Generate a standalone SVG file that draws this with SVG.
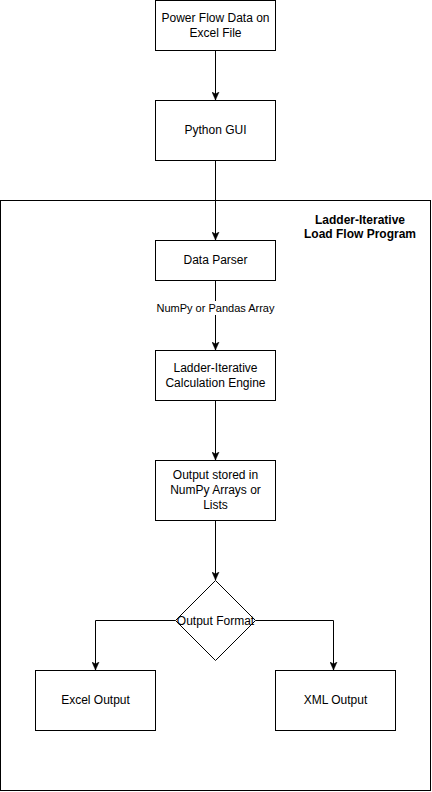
<svg xmlns="http://www.w3.org/2000/svg" width="432" height="792" viewBox="0 0 432 792">
<defs>
<style>
.box{fill:#fff;stroke:#000;stroke-width:1}
.t{font-family:"Liberation Sans",Arial,sans-serif;font-size:12px;fill:#000;text-anchor:middle}
.b{font-weight:bold}
.lbl{font-family:"Liberation Sans",Arial,sans-serif;font-size:11px;fill:#000;text-anchor:middle}
.e{fill:none;stroke:#000;stroke-width:1}
</style>
<marker id="ah" markerWidth="8" markerHeight="8" viewBox="0 0 8 8" refX="8" refY="4" orient="auto" markerUnits="userSpaceOnUse">
<path d="M0,0.5 L8,4 L0,7.5 L2,4 Z" fill="#000" stroke="#000" stroke-width="0.5"/>
</marker>
</defs>
<rect width="432" height="792" fill="#fff"/>
<g id="container">
<rect class="box" x="0.5" y="200.5" width="430" height="590"/>
<text class="t b" x="360" y="224">Ladder-Iterative</text>
<text class="t b" x="360" y="238">Load Flow Program</text>
</g>
<g id="edges">
<path class="e" d="M215.5,50.5 V100" marker-end="url(#ah)"/>
<path class="e" d="M215.5,160.5 V240" marker-end="url(#ah)"/>
<path class="e" d="M215.5,280.5 V350" marker-end="url(#ah)"/>
<rect x="152" y="301" width="127" height="14" fill="#fff"/>
<text class="lbl" x="215.5" y="312">NumPy or Pandas Array</text>
<path class="e" d="M215.5,400.5 V460" marker-end="url(#ah)"/>
<path class="e" d="M215.5,520.5 V580" marker-end="url(#ah)"/>
<path class="e" d="M175.5,620.5 H95.5 V670" marker-end="url(#ah)"/>
<path class="e" d="M255.5,620.5 H333.5 V670" marker-end="url(#ah)"/>
</g>
<g id="n1">
<rect class="box" x="155.5" y="0.5" width="120" height="50"/>
<text class="t" x="215.5" y="22">Power Flow Data on</text>
<text class="t" x="215.5" y="37">Excel File</text>
</g>
<g id="n2">
<rect class="box" x="155.5" y="100.5" width="120" height="60"/>
<text class="t" x="215.5" y="134">Python GUI</text>
</g>
<g id="n3">
<rect class="box" x="155.5" y="240.5" width="120" height="40"/>
<text class="t" x="215.5" y="264">Data Parser</text>
</g>
<g id="n4">
<rect class="box" x="155.5" y="350.5" width="120" height="50"/>
<text class="t" x="215.5" y="372">Ladder-Iterative</text>
<text class="t" x="215.5" y="387">Calculation Engine</text>
</g>
<g id="n5">
<rect class="box" x="155.5" y="460.5" width="120" height="60"/>
<text class="t" x="215.5" y="479">Output stored in</text>
<text class="t" x="215.5" y="494">NumPy Arrays or</text>
<text class="t" x="215.5" y="509">Lists</text>
</g>
<g id="n6">
<path class="box" d="M215.5,580.5 L255.5,620.5 L215.5,660.5 L175.5,620.5 Z"/>
<text class="t" x="215.5" y="624.5">Output Format</text>
</g>
<g id="n7">
<rect class="box" x="35.5" y="670.5" width="120" height="60"/>
<text class="t" x="95.5" y="704">Excel Output</text>
</g>
<g id="n8">
<rect class="box" x="275.5" y="670.5" width="120" height="60"/>
<text class="t" x="335.5" y="704">XML Output</text>
</g>
</svg>
